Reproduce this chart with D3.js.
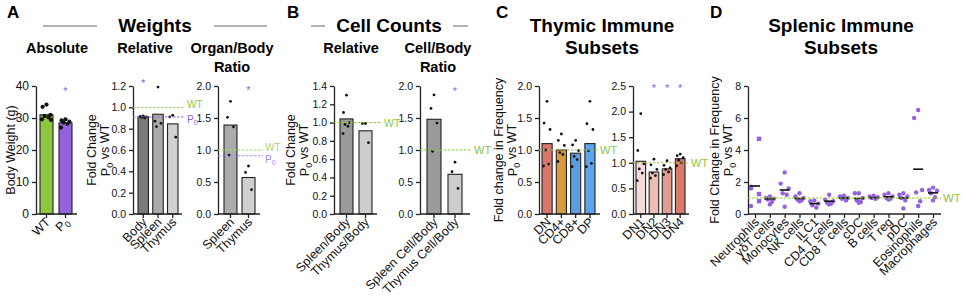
<!DOCTYPE html>
<html>
<head>
<meta charset="utf-8">
<script src="https://cdn.jsdelivr.net/npm/d3@7"></script>
<style>
    body { margin: 0; background: #fff; }
    svg { font-family: "Liberation Sans", Arial, sans-serif; }
</style>
</head>
<body>
<div id="chart"></div>
<script>
// ---------- data ----------
// A: body weight (absolute)
const absCats = ["WT", "P0"];
const absMeans = [31.0, 28.5];
const absPoints = [[34.2, 33.5, 31.0, 30.6, 30.2, 29.6, 29.4], [29.6, 29.3, 28.9, 28.6, 28.2, 27.0]];
const absTicks = [0, 10, 20, 30, 40];

// A: relative weights
const relCats = ["Body", "Spleen", "Thymus"];
const relMeans = [0.91, 0.935, 0.845];
const relPoints = [[0.92, 0.915, 0.91, 0.905, 0.90], [1.19, 0.87, 0.85, 0.82], [0.925, 0.91, 0.72]];
const relTicks = [0, 0.2, 0.4, 0.6, 0.8, 1.0, 1.2];

// A: organ/body ratio
const ratioCats = ["Spleen", "Thymus"];
const ratioMeans = [1.39, 0.57];
const ratioPoints = [[1.76, 1.51, 1.36, 0.92], [0.75, 0.65, 0.38]];
const ratioTicks = [0, 0.5, 1.0, 1.5, 2.0];

// B: cell counts relative
const cellRelCats = ["Spleen/Body", "Thymus/Body"];
const cellRelMeans = [1.04, 0.91];
const cellRelPoints = [[1.30, 1.11, 1.0, 0.98, 0.96, 0.88], [0.99, 0.99, 0.78]];
const cellRelTicks = [0, 0.2, 0.4, 0.6, 0.8, 1.0, 1.2, 1.4];

// B: cell/body ratio
const cellRatioCats = ["Spleen Cell/Body", "Thymus Cell/Body"];
const cellRatioMeans = [1.48, 0.62];
const cellRatioPoints = [[1.86, 1.65, 1.42, 0.98], [0.81, 0.66, 0.40]];
const cellRatioTicks = [0, 0.5, 1.0, 1.5, 2.0];

// C: thymic subsets
const thyCats = ["DN", "CD4+", "CD8+", "DP"];
const thyMeans = [1.1, 1.0, 0.95, 1.1];
const thyPoints = [
    [1.76, 1.42, 1.32, 1.0, 0.78, 0.75],
    [1.25, 1.15, 1.07, 0.96, 0.93, 0.82],
    [1.15, 1.08, 0.99, 0.90, 0.85, 0.74],
    [1.76, 1.41, 1.32, 0.99, 0.79, 0.74]
];
const thyTicks = [0, 0.5, 1.0, 1.5, 2.0];

const dnCats = ["DN1", "DN2", "DN3", "DN4"];
const dnMeans = [1.03, 0.82, 0.88, 1.08];
const dnPoints = [
    [1.96, 1.24, 0.98, 0.88, 0.80, 0.65],
    [1.07, 0.96, 0.87, 0.80, 0.75, 0.70],
    [1.04, 0.95, 0.90, 0.87, 0.82, 0.77],
    [1.17, 1.14, 1.10, 1.05, 1.00, 0.94]
];
const dnTicks = [0, 0.5, 1.0, 1.5, 2.0, 2.5];

// D: splenic subsets
const splCats = ["Neutrophils", "γδT cells", "Monocytes", "NK cells", "ILC1", "CD4 T cells", "CD8 T cells",
    "cDC", "B cells", "T reg", "pDC", "Eosinophils", "Macrophages"];
const splMeans = [1.75, 0.95, 1.5, 0.97, 0.65, 0.8, 1.0, 0.97, 1.02, 1.07, 1.0, 2.8, 1.32];
const splPoints = [
    [1.7, 1.6, 0.5],
    [1.1, 1.0, 0.95, 0.9, 0.75, 0.6],
    [2.6, 1.9, 1.6, 1.3, 1.2, 0.45],
    [1.3, 1.1, 1.0, 0.9, 0.85, 0.8],
    [0.85, 0.8, 0.65, 0.55, 0.4],
    [1.2, 0.9, 0.8, 0.7, 0.65, 0.6],
    [1.15, 1.1, 1.0, 0.95, 0.85],
    [1.3, 1.3, 1.0, 0.85, 0.75, 0.7],
    [1.15, 1.1, 1.05, 1.0, 0.95],
    [1.3, 1.2, 1.1, 1.0, 0.95, 0.9],
    [1.3, 1.2, 1.1, 1.0, 0.85, 0.35],
    [6.5, 6.0, 1.5, 1.35, 0.8, 0.5],
    [1.65, 1.5, 1.45, 1.3, 1.05, 0.85]
];
// neutrophil samples drawn as squares
const neutroSquares = [4.7, 1.25, 0.8];
const splTicks = [0, 2, 4, 6, 8];

// ---------- drawing ----------
const W = 963, H = 302;
const Y_TOP = 86, Y_BOTTOM = 214;
const GREEN = "#8dc63f", PURPLE = "#9461df";
const jitter = [0, -3, 3, -1.5, 1.5, -3.5, 3.5];

let svg = d3.select("#chart").append("svg")
    .attr("width", W)
    .attr("height", H);

// writes "P0" with a subscript zero
function subP(sel, text) {
    let parts = text.split("P0");
    sel.text(null);
    parts.forEach((p, i) => {
        if (i > 0) {
            sel.append("tspan").text("P");
            sel.append("tspan").attr("dy", "0.3em").attr("font-size", "0.72em").text("0");
            if (p) sel.append("tspan").attr("dy", "-0.3em").text(p);
        } else if (p) {
            sel.append("tspan").text(p);
        }
    });
}

function styleAxis(ax, fontSize) {
    ax.selectAll("path, line").attr("stroke", "#222").attr("stroke-width", 1.3);
    ax.selectAll("text").attr("fill", "#111").style("font-size", fontSize + "px");
}

function yAxisTitle(x, lines) {
    lines.forEach((t, i) => {
        let txt = svg.append("text")
            .attr("transform", `translate(${x + i * 14},150) rotate(-90)`)
            .attr("text-anchor", "middle")
            .style("font-size", "12.5px")
            .attr("fill", "#111");
        subP(txt, t);
    });
}

function refLine(y, x0, x1, val, color, label, fs, shift) {
    svg.append("line")
        .attr("x1", x0).attr("x2", x1)
        .attr("y1", y(val)).attr("y2", y(val))
        .attr("stroke", color).attr("stroke-width", 1)
        .attr("stroke-dasharray", "2.5,1.5");
    let t = svg.append("text")
        .attr("x", x1 + 2).attr("y", y(val) + (shift || 0))
        .attr("dy", "0.38em")
        .attr("fill", color)
        .style("font-size", fs + "px");
    subP(t, label);
}

function barPanel(cfg) {
    let y = d3.scaleLinear().domain([0, d3.max(cfg.ticks)]).range([Y_BOTTOM, Y_TOP]);
    let x = d3.scaleBand().domain(cfg.cats).range(cfg.band).paddingInner(cfg.pad).paddingOuter(0);
    let g = svg.append("g");

    // bars
    g.selectAll("rect.bar").data(cfg.cats).join("rect")
        .attr("class", "bar")
        .attr("x", d => x(d))
        .attr("width", x.bandwidth())
        .attr("y", (d, i) => y(cfg.means[i]))
        .attr("height", (d, i) => y(0) - y(cfg.means[i]))
        .attr("fill", (d, i) => cfg.colors[i])
        .attr("stroke", "#222")
        .attr("stroke-width", 1.1);

    // reference lines
    (cfg.refs || []).forEach(r => refLine(y, cfg.axisX, r.x1, r.val, r.color, r.label, r.fs, r.shift));

    // dots
    cfg.cats.forEach((c, i) => {
        g.selectAll(null).data(cfg.points[i]).join("circle")
            .attr("cx", (d, j) => x(c) + x.bandwidth() / 2 + jitter[j % jitter.length] * cfg.spread)
            .attr("cy", d => y(d))
            .attr("r", cfg.r)
            .attr("fill", "#111");
    });

    // stars
    (cfg.stars || []).forEach(s => {
        svg.append("text")
            .attr("x", x(s[0]) + x.bandwidth() / 2)
            .attr("y", y(s[1]))
            .attr("dy", "0.55em")
            .attr("text-anchor", "middle")
            .attr("fill", PURPLE)
            .style("font-size", "11px")
            .text("*");
    });

    // y axis
    let ya = g.append("g")
        .attr("transform", `translate(${cfg.axisX},0)`)
        .call(d3.axisLeft(y).tickValues(cfg.ticks).tickFormat(d3.format(cfg.fmt)).tickSize(4).tickSizeOuter(0));
    styleAxis(ya, cfg.tickFs || 10.5);

    // x axis
    let xa = g.append("g")
        .attr("transform", `translate(0,${y(0)})`)
        .call(d3.axisBottom(x).tickSize(4).tickSizeOuter(0));
    xa.select(".domain").remove();
    g.append("line")
        .attr("x1", cfg.axisX).attr("x2", cfg.axisEnd)
        .attr("y1", y(0)).attr("y2", y(0))
        .attr("stroke", "#222").attr("stroke-width", 1.3);
    styleAxis(xa, 12.5);
    xa.selectAll("text")
        .attr("x", -3).attr("y", 5).attr("dy", "0.35em")
        .attr("transform", "rotate(-45)")
        .style("text-anchor", "end")
        .each(function(d) { subP(d3.select(this), d); });
}

// ---- A ----
barPanel({
    cats: absCats, means: absMeans, points: absPoints, ticks: absTicks, fmt: "d", tickFs: 12,
    axisX: 36, axisEnd: 77, band: [40, 72], pad: 0.316,
    colors: [GREEN, PURPLE], r: 2.1, spread: 1.3,
    stars: [["P0", 39]]
});
barPanel({
    cats: relCats, means: relMeans, points: relPoints, ticks: relTicks, fmt: ".1f",
    axisX: 133, axisEnd: 182, band: [138, 178], pad: 0.29,
    colors: ["#7a7a7a", "#ababab", "#d0d0d0"], r: 1.4, spread: 1,
    stars: [["Body", 1.25]],
    refs: [{val: 1.0, color: GREEN, label: "WT", x1: 185, fs: 10, shift: -3},
           {val: 0.91, color: PURPLE, label: "P0", x1: 185, fs: 10, shift: 2}]
});
barPanel({
    cats: ratioCats, means: ratioMeans, points: ratioPoints, ticks: ratioTicks, fmt: ".1f",
    axisX: 218, axisEnd: 260, band: [224, 255], pad: 0.28,
    colors: ["#ababab", "#d0d0d0"], r: 1.4, spread: 1,
    stars: [["Thymus", 1.97]],
    refs: [{val: 1.0, color: "#a9d475", label: "WT", x1: 263, fs: 10, shift: -3},
           {val: 0.91, color: "#ab8aec", label: "P0", x1: 263, fs: 10, shift: 3}]
});

// ---- B ----
barPanel({
    cats: cellRelCats, means: cellRelMeans, points: cellRelPoints, ticks: cellRelTicks, fmt: ".1f",
    axisX: 334, axisEnd: 377, band: [340, 372], pad: 0.316,
    colors: ["#9a9a9a", "#cdcdcd"], r: 1.4, spread: 1,
    refs: [{val: 1.0, color: GREEN, label: "WT", x1: 382, fs: 10.5}]
});
barPanel({
    cats: cellRatioCats, means: cellRatioMeans, points: cellRatioPoints, ticks: cellRatioTicks, fmt: ".1f",
    axisX: 420, axisEnd: 470, band: [427, 462], pad: 0.333,
    colors: ["#9a9a9a", "#cdcdcd"], r: 1.4, spread: 1,
    stars: [["Thymus Cell/Body", 1.95]],
    refs: [{val: 1.0, color: GREEN, label: "WT", x1: 472, fs: 11}]
});

// ---- C ----
barPanel({
    cats: thyCats, means: thyMeans, points: thyPoints, ticks: thyTicks, fmt: ".1f",
    axisX: 539, axisEnd: 600, band: [542, 595], pad: 0.29,
    colors: ["#d9766b", "#d99a3d", "#5b9de0", "#5ea4ea"], r: 1.4, spread: 1,
    refs: [{val: 1.0, color: GREEN, label: "WT", x1: 598, fs: 11}]
});
barPanel({
    cats: dnCats, means: dnMeans, points: dnPoints, ticks: dnTicks, fmt: ".1f",
    axisX: 633, axisEnd: 689, band: [636, 685], pad: 0.27,
    colors: ["#f6dcd8", "#ebbdb5", "#e39c92", "#d97a6e"], r: 1.4, spread: 1,
    stars: [["DN2", 2.5], ["DN3", 2.5], ["DN4", 2.5]],
    refs: [{val: 1.0, color: GREEN, label: "WT", x1: 689, fs: 11}]
});

// ---- D (scatter with mean) ----
(function() {
    let y = d3.scaleLinear().domain([0, 8]).range([Y_BOTTOM, Y_TOP]);
    let x = d3.scalePoint().domain(splCats).range([755, 933]);
    let g = svg.append("g");
    let dj = [0, -4, 4, -2, 2, 0];

    refLine(y, 748, 941, 1.0, GREEN, "WT", 11.5);

    splCats.forEach((c, i) => {
        g.selectAll(null).data(splPoints[i]).join("circle")
            .attr("cx", (d, j) => x(c) + (i === 0 ? -4 : dj[j % dj.length]))
            .attr("cy", d => y(d))
            .attr("r", 2.2)
            .attr("fill", PURPLE);
    });
    g.selectAll("rect.sq").data(neutroSquares).join("rect")
        .attr("class", "sq")
        .attr("x", d => x(splCats[0]) + 4 - 2.2)
        .attr("y", d => y(d) - 2.2)
        .attr("width", 4.4).attr("height", 4.4)
        .attr("fill", PURPLE);

    g.selectAll("line.mean").data(splCats).join("line")
        .attr("class", "mean")
        .attr("x1", d => x(d) - 5).attr("x2", d => x(d) + 5)
        .attr("y1", (d, i) => y(splMeans[i])).attr("y2", (d, i) => y(splMeans[i]))
        .attr("stroke", "#111").attr("stroke-width", 1.6);

    let ya = g.append("g")
        .attr("transform", "translate(748,0)")
        .call(d3.axisLeft(y).tickValues(splTicks).tickFormat(d3.format("d")).tickSize(4).tickSizeOuter(0));
    styleAxis(ya, 10.5);

    let xa = g.append("g")
        .attr("transform", `translate(0,${y(0)})`)
        .call(d3.axisBottom(x).tickSize(4).tickSizeOuter(0));
    xa.select(".domain").remove();
    g.append("line")
        .attr("x1", 748).attr("x2", 941)
        .attr("y1", y(0)).attr("y2", y(0))
        .attr("stroke", "#222").attr("stroke-width", 1.3);
    styleAxis(xa, 12.5);
    xa.selectAll("text")
        .attr("x", -3).attr("y", 5).attr("dy", "0.35em")
        .attr("transform", "rotate(-45)")
        .style("text-anchor", "end");
})();

// ---------- titles ----------
yAxisTitle(15, ["Body Weight (g)"]);
yAxisTitle(96, ["Fold Change", "P0 vs WT"]);
yAxisTitle(295, ["Fold Change", "P0 vs WT"]);
yAxisTitle(503, ["Fold change in Frequency", "P0 vs WT"]);
yAxisTitle(719, ["Fold Change in Frequency", "P0 vs WT"]);

const letters = [["A", 7], ["B", 287], ["C", 496], ["D", 710]];
letters.forEach(l => {
    svg.append("text").attr("x", l[1]).attr("y", 18)
        .style("font-size", "17px").style("font-weight", "bold").text(l[0]);
});

function title(x, y, t, size) {
    svg.append("text").attr("x", x).attr("y", y)
        .attr("text-anchor", "middle")
        .style("font-size", size + "px").style("font-weight", "bold")
        .text(t);
}
title(155, 32, "Weights", 19);
title(389, 32, "Cell Counts", 19);
title(602, 32, "Thymic Immune", 19);
title(602, 54, "Subsets", 19);
title(841, 32, "Splenic Immune", 19);
title(841, 54, "Subsets", 19);

title(57, 53, "Absolute", 14.5);
title(145, 53, "Relative", 14.5);
title(232, 53, "Organ/Body", 14.5);
title(232, 72, "Ratio", 14.5);
title(351, 53, "Relative", 14.5);
title(438, 53, "Cell/Body", 14.5);
title(438, 72, "Ratio", 14.5);

const rules = [[43, 97], [214, 267], [311, 325], [453, 468]];
rules.forEach(r => {
    svg.append("line").attr("x1", r[0]).attr("x2", r[1]).attr("y1", 26).attr("y2", 26)
        .attr("stroke", "#999").attr("stroke-width", 1.5);
});
</script>
</body>
</html>
